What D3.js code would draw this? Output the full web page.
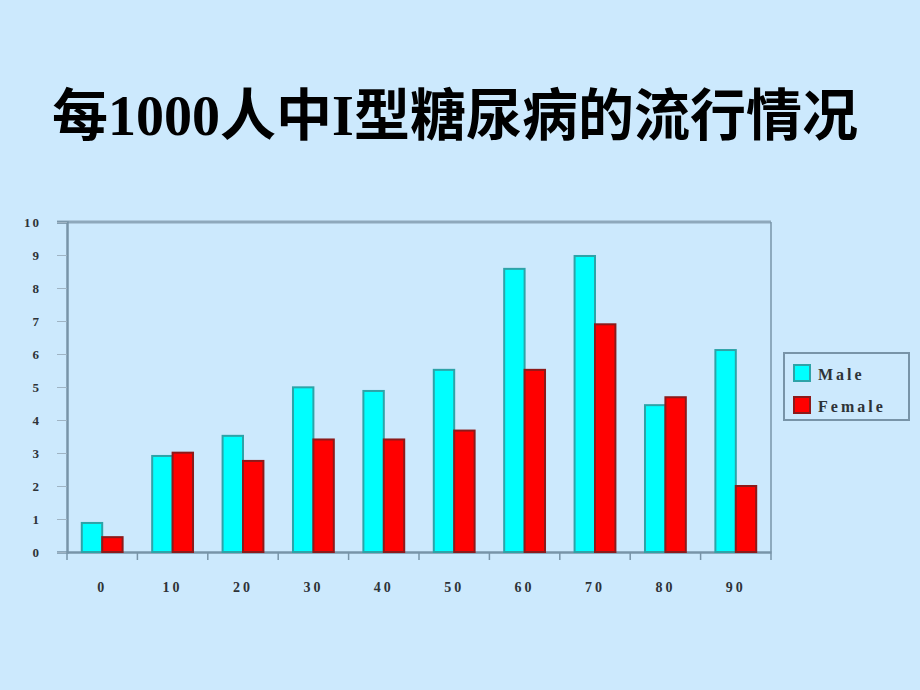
<!DOCTYPE html>
<html>
<head>
<meta charset="utf-8">
<script src="https://cdn.jsdelivr.net/npm/d3@7"></script>
<style>
    html, body { margin: 0; padding: 0; background: #cce9fd; }
    svg { display: block; }
    .tick-label { font-family: "Liberation Serif", "DejaVu Serif", serif; font-weight: bold; fill: #2e3338; }
</style>
</head>
<body>
<div id="chart"></div>
<script>
// ************************** DATOS *******************************************
const categories = ["0", "10", "20", "30", "40", "50", "60", "70", "80", "90"];
const male = [0.88, 2.91, 3.52, 4.99, 4.88, 5.52, 8.58, 8.97, 4.45, 6.12];
const female = [0.45, 3.01, 2.76, 3.41, 3.41, 3.68, 5.52, 6.9, 4.69, 2.0];
const series_names = ["Male", "Female"];
const y_ticks = [0, 1, 2, 3, 4, 5, 6, 7, 8, 9, 10];
const title = "每1000人中I型糖尿病的流行情况";

// ************************** GRAFICO *****************************************
const W = 920, H = 690;
const margin = {top: 222, left: 67, right: 149, bottom: 138};
const width = W - margin.left - margin.right;
const height = H - margin.top - margin.bottom;

const colors = {
    Male: {fill: "#00ffff", stroke: "#2ea3a8"},
    Female: {fill: "#ff0000", stroke: "#8c1a1a"}
};
const axis_color = "#7894a8";

const svg = d3.select("#chart").append("svg")
    .attr("width", W).attr("height", H);

// titulo (los digitos y la I salen en serif, el resto en CJK)
svg.append("text")
    .attr("x", 455).attr("y", 135)
    .attr("text-anchor", "middle")
    .style("font-family", "'Liberation Serif', 'Noto Sans CJK SC', serif")
    .style("font-weight", "bold")
    .style("font-size", "56px")
    .style("fill", "#000")
    .text(title);

const g = svg.append("g")
    .attr("transform", "translate(" + margin.left + "," + margin.top + ")");

const x0 = d3.scaleBand().domain(categories).range([0, width]).padding(0);
const x1 = d3.scaleBand().domain(series_names)
    .range([x0.bandwidth() * 0.21, x0.bandwidth() * 0.79]).padding(0);
const y = d3.scaleLinear().domain([0, 10]).range([height, 0]);

// marco superior y derecho
g.append("line")
    .attr("x1", -10).attr("x2", width).attr("y1", 0).attr("y2", 0)
    .attr("stroke", "#8ea8bb").attr("stroke-width", 3);
g.append("line")
    .attr("x1", width).attr("x2", width).attr("y1", 0).attr("y2", height)
    .attr("stroke", axis_color).attr("stroke-width", 1.5);

// eje y
const yAxis = g.append("g")
    .call(d3.axisLeft(y).tickValues(y_ticks).tickSize(10).tickPadding(16));
yAxis.select(".domain").attr("stroke", axis_color).attr("stroke-width", 2.5);
yAxis.selectAll(".tick line").attr("stroke", "#9fb4c4").attr("stroke-width", 1);
yAxis.selectAll(".tick text")
    .attr("class", "tick-label")
    .style("font-size", "13px")
    .style("letter-spacing", "2px");

// eje x
const xAxis = g.append("g")
    .attr("transform", "translate(0," + height + ")")
    .call(d3.axisBottom(x0).tickSize(0).tickPadding(30));
xAxis.select(".domain").attr("stroke", axis_color).attr("stroke-width", 2.5);
xAxis.selectAll(".tick text")
    .attr("class", "tick-label")
    .style("font-size", "14px")
    .style("letter-spacing", "3px");
// marcas entre categorias
g.append("g").selectAll("line")
    .data(categories.concat(["end"]))
    .enter().append("line")
    .attr("x1", function(d, i){ return i * x0.step(); })
    .attr("x2", function(d, i){ return i * x0.step(); })
    .attr("y1", height).attr("y2", height + 8)
    .attr("stroke", axis_color).attr("stroke-width", 1.5);

// barras
const rows = categories.map(function(c, i){
    return {cat: c, values: [
        {name: "Male", value: male[i]},
        {name: "Female", value: female[i]}
    ]};
});

g.append("g").selectAll("g")
    .data(rows)
    .enter().append("g")
    .attr("transform", function(d){ return "translate(" + x0(d.cat) + ",0)"; })
    .selectAll("rect")
    .data(function(d){ return d.values; })
    .enter().append("rect")
    .attr("x", function(d){ return x1(d.name); })
    .attr("width", x1.bandwidth())
    .attr("y", function(d){ return y(d.value); })
    .attr("height", function(d){ return height - y(d.value); })
    .attr("fill", function(d){ return colors[d.name].fill; })
    .attr("stroke", function(d){ return colors[d.name].stroke; })
    .attr("stroke-width", 2);

// leyenda
const legend = svg.append("g").attr("transform", "translate(784,353)");
legend.append("rect")
    .attr("width", 125).attr("height", 67)
    .attr("fill", "none").attr("stroke", axis_color).attr("stroke-width", 2);
series_names.forEach(function(name, i){
    legend.append("rect")
        .attr("x", 10).attr("y", 12 + i * 32)
        .attr("width", 16).attr("height", 16)
        .attr("fill", colors[name].fill)
        .attr("stroke", colors[name].stroke).attr("stroke-width", 2);
    legend.append("text")
        .attr("x", 34).attr("y", 27 + i * 32)
        .attr("class", "tick-label")
        .style("font-size", "16px")
        .style("letter-spacing", "3px")
        .text(name);
});
</script>
</body>
</html>
